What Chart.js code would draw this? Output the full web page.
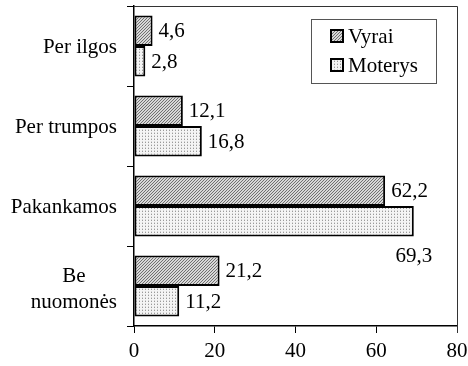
<!DOCTYPE html>
<html>
<head>
<meta charset="utf-8">
<script src="https://cdn.jsdelivr.net/npm/chart.js@4/dist/chart.umd.min.js"></script>
<style>
  html, body { margin: 0; padding: 0; background: #fff; }
  #wrap { width: 468px; height: 366px; }
</style>
</head>
<body>
<div id="wrap"><canvas id="c" width="468" height="366"></canvas></div>
<script>
// Opinion categories (top to bottom) and shares in percent
const categories = [['Per ilgos'], ['Per trumpos'], ['Pakankamos'], ['Be', 'nuomonės']];
const seriesNames = ['Vyrai', 'Moterys'];
const vyrai = [4.6, 12.1, 62.2, 21.2];
const moterys = [2.8, 16.8, 69.3, 11.2];
const xTicks = [0, 20, 40, 60, 80];

const FONT = '"Liberation Serif", "Times New Roman", serif';
const FS = 21;

// Fill patterns: fine diagonal hatch and light dotted screen
function hatchPattern() {
  const t = document.createElement('canvas');
  t.width = 3; t.height = 3;
  const g = t.getContext('2d');
  g.fillStyle = '#d8d8d8';
  g.fillRect(0, 0, 3, 3);
  g.fillStyle = '#707070';
  for (let i = 0; i < 3; i++) g.fillRect(i, 2 - i, 1, 1);
  return g.createPattern(t, 'repeat');
}
function dotPattern() {
  const t = document.createElement('canvas');
  t.width = 3; t.height = 3;
  const g = t.getContext('2d');
  g.fillStyle = '#f4f4f4';
  g.fillRect(0, 0, 3, 3);
  g.fillStyle = '#9a9a9a';
  g.fillRect(1, 1, 1, 1);
  g.fillStyle = '#d4d4d4';
  g.fillRect(1, 0, 1, 1);
  return g.createPattern(t, 'repeat');
}
const fills = [hatchPattern(), dotPattern()];

function fmt(v) { return v.toFixed(1).replace('.', ','); }

// Category names, each line centred on the widest line, block right-aligned
const categoryLabels = {
  id: 'categoryLabels',
  afterDraw(chart) {
    const ctx = chart.ctx, y = chart.scales.y;
    const right = chart.chartArea.left - 17;
    const lh = 26;
    ctx.save();
    ctx.font = FS + 'px ' + FONT;
    ctx.fillStyle = '#000';
    ctx.textBaseline = 'middle';
    ctx.textAlign = 'center';
    categories.forEach((lines, i) => {
      const w = Math.max(...lines.map(l => ctx.measureText(l).width));
      const cx = right - w / 2;
      const cy = y.getPixelForValue(i) + 1 + (lines.length - 1) * 2;
      lines.forEach((l, k) => {
        ctx.fillText(l, cx, cy + (k - (lines.length - 1) / 2) * lh);
      });
    });
    ctx.restore();
  }
};

// Value labels next to bar ends (below the end for the longest bars)
const valueLabels = {
  id: 'valueLabels',
  afterDatasetsDraw(chart) {
    const ctx = chart.ctx;
    ctx.save();
    ctx.font = FS + 'px ' + FONT;
    ctx.fillStyle = '#000';
    chart.data.datasets.forEach((ds, di) => {
      const meta = chart.getDatasetMeta(di);
      meta.data.forEach((bar, i) => {
        const v = ds.data[i];
        const txt = fmt(v);
        ctx.textBaseline = 'middle';
        if (v > 65) {
          ctx.textAlign = 'center';
          ctx.fillText(txt, bar.x, bar.y + bar.height / 2 + 20);
        } else {
          ctx.textAlign = 'left';
          ctx.fillText(txt, bar.x + 6, bar.y + 1);
        }
      });
    });
    ctx.restore();
  }
};

// Thin frame on top and right of the plot area
const frame = {
  id: 'frame',
  afterDraw(chart) {
    const { ctx, chartArea: a } = chart;
    ctx.save();
    ctx.strokeStyle = '#333';
    ctx.lineWidth = 1;
    ctx.beginPath();
    ctx.moveTo(a.left, a.top + 0.5);
    ctx.lineTo(a.right + 0.5, a.top + 0.5);
    ctx.lineTo(a.right + 0.5, a.bottom + 7);
    ctx.stroke();
    ctx.restore();
  }
};

// Boxed legend inside the plot area
const boxLegend = {
  id: 'boxLegend',
  afterDraw(chart) {
    const ctx = chart.ctx;
    const x0 = 311, y0 = 19, w = 125, h = 64;
    ctx.save();
    ctx.fillStyle = '#fff';
    ctx.fillRect(x0, y0, w, h);
    ctx.strokeStyle = '#555';
    ctx.lineWidth = 1;
    ctx.strokeRect(x0 + 0.5, y0 + 0.5, w, h);
    ctx.font = FS + 'px ' + FONT;
    ctx.textBaseline = 'middle';
    ctx.textAlign = 'left';
    chart.data.datasets.forEach((ds, i) => {
      const cy = y0 + 17 + i * 29;
      ctx.fillStyle = ds.backgroundColor;
      ctx.fillRect(331, cy - 6, 12, 12);
      ctx.strokeStyle = '#000';
      ctx.lineWidth = 2;
      ctx.strokeRect(331, cy - 6, 12, 12);
      ctx.fillStyle = '#000';
      ctx.fillText(ds.label, 348, cy + 1);
    });
    ctx.restore();
  }
};

new Chart(document.getElementById('c'), {
  type: 'bar',
  data: {
    labels: categories.map(c => c.join(' ')),
    datasets: [
      { label: seriesNames[0], data: vyrai, backgroundColor: fills[0], borderColor: '#000', borderWidth: 2, borderSkipped: false },
      { label: seriesNames[1], data: moterys, backgroundColor: fills[1], borderColor: '#000', borderWidth: 2, borderSkipped: false }
    ]
  },
  options: {
    indexAxis: 'y',
    responsive: false,
    animation: false,
    devicePixelRatio: 1,
    layout: { padding: { top: 6, right: 11, left: 0, bottom: 0 } },
    datasets: { bar: { categoryPercentage: 0.76, barPercentage: 1 } },
    plugins: { legend: { display: false }, tooltip: { enabled: false } },
    scales: {
      x: {
        min: 0, max: 80,
        afterBuildTicks: s => { s.ticks = xTicks.map(v => ({ value: v })); },
        afterFit: s => { s.height = 40; s.paddingRight = 0; s.paddingLeft = 0; },
        ticks: { color: '#000', font: { family: FONT, size: FS }, padding: 6, maxRotation: 0 },
        grid: { drawOnChartArea: false, color: '#000', tickLength: 7, tickWidth: 1 },
        border: { color: '#000', width: 1.5 }
      },
      y: {
        afterFit: s => { s.width = 134; s.paddingTop = 0; s.paddingBottom = 0; },
        ticks: { display: false },
        grid: { drawOnChartArea: false, color: '#000', tickLength: 7, tickWidth: 1, offset: true },
        border: { color: '#000', width: 1.5 }
      }
    }
  },
  plugins: [categoryLabels, valueLabels, frame, boxLegend]
});
</script>
</body>
</html>
